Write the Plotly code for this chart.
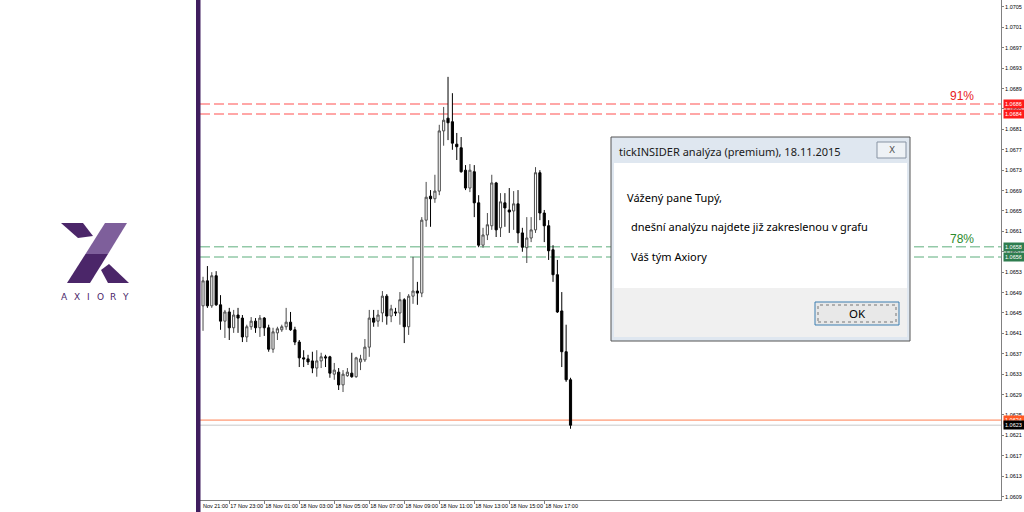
import plotly.graph_objects as go
import pandas as pd

# ---------------- data (EURUSD M15) ----------------
opens = [1.06464, 1.06513, 1.06464, 1.06523, 1.06466, 1.06434, 1.06452, 1.06421, 1.06446, 1.06440,
         1.06403, 1.06423, 1.06434, 1.06421, 1.06440, 1.06421, 1.06379, 1.06411, 1.06417, 1.06423,
         1.06432, 1.06417, 1.06393, 1.06362, 1.06360, 1.06356, 1.06342, 1.06356, 1.06364, 1.06364,
         1.06330, 1.06334, 1.06309, 1.06327, 1.06332, 1.06325, 1.06354, 1.06358, 1.06383, 1.06440,
         1.06434, 1.06450, 1.06483, 1.06444, 1.06452, 1.06450, 1.06476, 1.06423, 1.06483, 1.06493,
         1.06489, 1.06632, 1.06679, 1.06674, 1.06689, 1.06807, 1.06832, 1.06825, 1.06781, 1.06774,
         1.06730, 1.06695, 1.06727, 1.06666, 1.06583, 1.06603, 1.06621, 1.06705, 1.06617, 1.06666,
         1.06652, 1.06650, 1.06664, 1.06607, 1.06578, 1.06597, 1.06613, 1.06725, 1.06646, 1.06621,
         1.06574, 1.06525, 1.06454, 1.06374, 1.06319]
highs = [1.06521, 1.06542, 1.06530, 1.06532, 1.06485, 1.06456, 1.06460, 1.06456, 1.06460, 1.06446,
         1.06427, 1.06442, 1.06440, 1.06446, 1.06442, 1.06427, 1.06421, 1.06423, 1.06427, 1.06460,
         1.06452, 1.06423, 1.06397, 1.06377, 1.06368, 1.06374, 1.06377, 1.06372, 1.06368, 1.06366,
         1.06352, 1.06342, 1.06338, 1.06342, 1.06372, 1.06364, 1.06368, 1.06399, 1.06456, 1.06456,
         1.06456, 1.06493, 1.06487, 1.06466, 1.06460, 1.06491, 1.06479, 1.06487, 1.06560, 1.06511,
         1.06638, 1.06707, 1.06691, 1.06721, 1.06819, 1.06854, 1.06913, 1.06881, 1.06803, 1.06795,
         1.06740, 1.06742, 1.06740, 1.06681, 1.06617, 1.06646, 1.06721, 1.06707, 1.06685, 1.06685,
         1.06695, 1.06689, 1.06691, 1.06617, 1.06638, 1.06638, 1.06736, 1.06730, 1.06652, 1.06632,
         1.06583, 1.06554, 1.06491, 1.06427, 1.06323]
lows = [1.06415, 1.06460, 1.06460, 1.06464, 1.06417, 1.06401, 1.06397, 1.06411, 1.06411, 1.06393,
        1.06393, 1.06417, 1.06411, 1.06403, 1.06405, 1.06374, 1.06372, 1.06397, 1.06413, 1.06417,
        1.06415, 1.06387, 1.06344, 1.06344, 1.06348, 1.06332, 1.06325, 1.06342, 1.06344, 1.06323,
        1.06319, 1.06299, 1.06295, 1.06325, 1.06323, 1.06323, 1.06338, 1.06354, 1.06364, 1.06423,
        1.06423, 1.06432, 1.06427, 1.06432, 1.06444, 1.06427, 1.06391, 1.06407, 1.06468, 1.06466,
        1.06481, 1.06619, 1.06619, 1.06666, 1.06681, 1.06778, 1.06789, 1.06770, 1.06750, 1.06725,
        1.06691, 1.06687, 1.06638, 1.06579, 1.06578, 1.06593, 1.06613, 1.06599, 1.06599, 1.06619,
        1.06607, 1.06613, 1.06587, 1.06570, 1.06548, 1.06589, 1.06607, 1.06632, 1.06589, 1.06554,
        1.06511, 1.06450, 1.06344, 1.06315, 1.06223]
closes = [1.06513, 1.06464, 1.06523, 1.06466, 1.06434, 1.06452, 1.06421, 1.06446, 1.06440, 1.06403,
          1.06423, 1.06434, 1.06421, 1.06440, 1.06421, 1.06379, 1.06413, 1.06419, 1.06423, 1.06432,
          1.06417, 1.06393, 1.06362, 1.06360, 1.06354, 1.06342, 1.06356, 1.06364, 1.06362, 1.06332,
          1.06338, 1.06309, 1.06330, 1.06334, 1.06325, 1.06362, 1.06360, 1.06383, 1.06440, 1.06432,
          1.06446, 1.06483, 1.06444, 1.06458, 1.06450, 1.06476, 1.06423, 1.06483, 1.06493, 1.06489,
          1.06632, 1.06677, 1.06674, 1.06689, 1.06807, 1.06828, 1.06823, 1.06783, 1.06776, 1.06727,
          1.06695, 1.06730, 1.06666, 1.06583, 1.06603, 1.06623, 1.06705, 1.06613, 1.06668, 1.06656,
          1.06648, 1.06664, 1.06607, 1.06579, 1.06597, 1.06613, 1.06725, 1.06646, 1.06621, 1.06572,
          1.06525, 1.06452, 1.06374, 1.06319, 1.06230]
first_bar = "2015-11-17 21:30"
bar_times = pd.date_range(first_bar, periods=len(opens), freq="15min")

x_tick_times = ["2015-11-17 23:00", "2015-11-18 01:00", "2015-11-18 03:00", "2015-11-18 05:00",
                "2015-11-18 07:00", "2015-11-18 09:00", "2015-11-18 11:00", "2015-11-18 13:00",
                "2015-11-18 15:00", "2015-11-18 17:00"]
x_tick_labels = ["17 Nov 23:00", "18 Nov 01:00", "18 Nov 03:00", "18 Nov 05:00", "18 Nov 07:00",
                 "18 Nov 09:00", "18 Nov 11:00", "18 Nov 13:00", "18 Nov 15:00", "18 Nov 17:00"]
y_ticks = [1.0609, 1.0613, 1.0617, 1.0621, 1.0625, 1.0629, 1.0633, 1.0637, 1.0641, 1.0645,
           1.0649, 1.0653, 1.0657, 1.0661, 1.0665, 1.0669, 1.0673, 1.0677, 1.0681, 1.0685,
           1.0689, 1.0693, 1.0697, 1.0701, 1.0705]
y_tick_labels = ["%.4f" % v for v in y_ticks]

red_levels = [1.0686, 1.0684]
green_levels = [1.0658, 1.0656]
orange_level = 1.0624
bid_level = 1.0623
red_pct = "91%"
green_pct = "78%"

# ---------------- layout helpers (pixel -> paper) ----------------
W, H = 1024, 512
ML, MR, MT, MB = 200, 23, 0, 12
PW, PH = W - ML - MR, H - MT - MB


def px(x):
    return (x - ML) / PW


def py(y):
    return 1 - (y - MT) / PH


def path(points):
    return "M " + " L ".join("%.5f,%.5f" % (px(a), py(b)) for a, b in points) + " Z"


fig = go.Figure()
fig.add_trace(go.Candlestick(
    x=bar_times, open=opens, high=highs, low=lows, close=closes,
    increasing=dict(line=dict(color="#4a4a4a", width=1), fillcolor="#ffffff"),
    decreasing=dict(line=dict(color="#000000", width=1), fillcolor="#000000"),
    whiskerwidth=0, showlegend=False, hoverinfo="skip"))

shapes = []
# level lines
for lv in red_levels:
    shapes.append(dict(type="line", xref="paper", yref="y", x0=0, x1=1, y0=lv, y1=lv,
                       line=dict(color="#ff8a8a", width=1.5, dash="10px,4px"), layer="below"))
for lv in green_levels:
    shapes.append(dict(type="line", xref="paper", yref="y", x0=0, x1=1, y0=lv, y1=lv,
                       line=dict(color="#93c9a8", width=1.5, dash="10px,4px"), layer="below"))
shapes.append(dict(type="line", xref="paper", yref="y", x0=0, x1=1, y0=orange_level, y1=orange_level,
                   line=dict(color="#ff7f50", width=1), layer="below"))
shapes.append(dict(type="line", xref="paper", yref="y", x0=0, x1=1, y0=bid_level, y1=bid_level,
                   line=dict(color="#c8c8c8", width=1), layer="below"))

# purple separator bar
shapes.append(dict(type="rect", xref="paper", yref="paper", x0=px(196), x1=px(200.5), y0=py(512), y1=py(0),
                   fillcolor="#3f1d5e", line=dict(width=0)))

# logo
logo_dark = "#4b2669"
logo_light = "#7e5f9b"
shapes.append(dict(type="path", xref="paper", yref="paper",
                   path=path([(61, 223), (83, 223), (93, 236), (78, 238)]),
                   fillcolor=logo_dark, line=dict(width=0)))
shapes.append(dict(type="path", xref="paper", yref="paper",
                   path=path([(105, 223), (127, 223), (108, 254), (85.5, 254)]),
                   fillcolor=logo_light, line=dict(width=0)))
shapes.append(dict(type="path", xref="paper", yref="paper",
                   path=path([(85.5, 254), (108, 254), (90, 283), (67, 283)]),
                   fillcolor=logo_dark, line=dict(width=0)))
shapes.append(dict(type="path", xref="paper", yref="paper",
                   path=path([(101, 270), (109, 264), (129, 283), (108, 283)]),
                   fillcolor=logo_dark, line=dict(width=0)))

# dialog box
shapes.append(dict(type="rect", xref="paper", yref="paper", x0=px(611), x1=px(910), y0=py(341), y1=py(137),
                   fillcolor="#dfe7f0", line=dict(color="#555555", width=1)))
shapes.append(dict(type="rect", xref="paper", yref="paper", x0=px(614), x1=px(907), y0=py(288), y1=py(163),
                   fillcolor="#ffffff", line=dict(width=0)))
shapes.append(dict(type="rect", xref="paper", yref="paper", x0=px(614), x1=px(907), y0=py(337), y1=py(288),
                   fillcolor="#f0f0f0", line=dict(width=0)))
shapes.append(dict(type="rect", xref="paper", yref="paper", x0=px(877), x1=px(906), y0=py(158), y1=py(142),
                   fillcolor="#eef2f6", line=dict(color="#8793a3", width=1)))
shapes.append(dict(type="rect", xref="paper", yref="paper", x0=px(815), x1=px(899), y0=py(325), y1=py(302),
                   fillcolor="#e8e8e8", line=dict(color="#3c7fb1", width=1)))
shapes.append(dict(type="rect", xref="paper", yref="paper", x0=px(818), x1=px(896), y0=py(322), y1=py(305),
                   fillcolor="rgba(0,0,0,0)", line=dict(color="#777777", width=1, dash="dot")))

annotations = []
ui_font = "Noto Sans"
# percentages
annotations.append(dict(xref="paper", yref="paper", x=px(962), y=py(96), text=red_pct, showarrow=False,
                        xanchor="center", yanchor="middle",
                        font=dict(family="Liberation Sans", size=12, color="#e8211d")))
annotations.append(dict(xref="paper", yref="paper", x=px(962), y=py(239), text=green_pct, showarrow=False,
                        xanchor="center", yanchor="middle",
                        font=dict(family="Liberation Sans", size=12, color="#2c8a2c")))
# price labels on the axis
for lv, col in [(red_levels[0], "#ff1a1a"), (red_levels[1], "#ff1a1a"),
                (green_levels[0], "#2e7d4f"), (green_levels[1], "#2e7d4f"),
                (orange_level, "#ff5722"), (bid_level, "#000000")]:
    annotations.append(dict(xref="paper", yref="y", x=px(1003), y=lv, xanchor="left", yanchor="middle",
                            text="%.4f" % lv, showarrow=False, bgcolor=col, borderpad=1, width=19,
                            align="left", font=dict(family="Liberation Sans", size=5.5, color="#ffffff")))
# truncated first time label
annotations.append(dict(xref="paper", yref="paper", x=px(201), y=py(506), xanchor="left", yanchor="middle",
                        text="Nov 21:00", showarrow=False,
                        font=dict(family="Liberation Sans", size=5.5, color="#000000")))
# dialog texts
annotations.append(dict(xref="paper", yref="paper", x=px(617), y=py(151), xanchor="left", yanchor="middle",
                        text="tickINSIDER analýza (premium), 18.11.2015", showarrow=False,
                        font=dict(family=ui_font, size=11, color="#1a1a1a")))
annotations.append(dict(xref="paper", yref="paper", x=px(891.5), y=py(150), xanchor="center", yanchor="middle",
                        text="X", showarrow=False, font=dict(family="DejaVu Sans", size=9, color="#555555")))
annotations.append(dict(xref="paper", yref="paper", x=px(625), y=py(197), xanchor="left", yanchor="middle",
                        text="Vážený pane Tupý,", showarrow=False,
                        font=dict(family=ui_font, size=11, color="#000000")))
annotations.append(dict(xref="paper", yref="paper", x=px(629), y=py(227), xanchor="left", yanchor="middle",
                        text="dnešní analýzu najdete již zakreslenou v grafu", showarrow=False,
                        font=dict(family=ui_font, size=11, color="#000000")))
annotations.append(dict(xref="paper", yref="paper", x=px(629), y=py(256), xanchor="left", yanchor="middle",
                        text="Váš tým Axiory", showarrow=False,
                        font=dict(family=ui_font, size=11, color="#000000")))
annotations.append(dict(xref="paper", yref="paper", x=px(857), y=py(313), xanchor="center", yanchor="middle",
                        text="OK", showarrow=False, font=dict(family=ui_font, size=11.5, color="#000000")))
# logo wordmark
for ch, cx in zip("AXIORY", [64, 76.5, 88.5, 100.5, 113, 125]):
    annotations.append(dict(xref="paper", yref="paper", x=px(cx), y=py(297), xanchor="center", yanchor="middle",
                            text=ch, showarrow=False,
                            font=dict(family="DejaVu Sans", size=9, color=logo_dark)))

fig.update_layout(
    width=W, height=H, autosize=False,
    margin=dict(l=ML, r=MR, t=MT, b=MB, pad=0),
    paper_bgcolor="#ffffff", plot_bgcolor="#ffffff",
    shapes=shapes, annotations=annotations,
    showlegend=False,
    xaxis=dict(type="date", range=["2015-11-17 21:19:36", "2015-11-19 19:06:00"],
               rangeslider=dict(visible=False), showgrid=False, zeroline=False,
               showline=True, linecolor="#808080", linewidth=1, automargin=False,
               tickvals=x_tick_times, ticktext=x_tick_labels, ticks="outside", ticklen=3,
               tickcolor="#808080", ticklabelposition="outside right", tickangle=0,
               tickfont=dict(family="Liberation Sans", size=5.5, color="#000000")),
    yaxis=dict(side="right", range=[1.060833, 1.070637], showgrid=False, zeroline=False,
               showline=True, linecolor="#808080", linewidth=1, automargin=False,
               tickvals=y_ticks, ticktext=y_tick_labels, ticks="outside", ticklen=2,
               tickcolor="#808080",
               tickfont=dict(family="Liberation Sans", size=5.5, color="#000000")),
)

fig.write_html("out.html", config={"displayModeBar": False},
               post_script="document.body.style.margin='0';document.body.style.overflow='hidden';")
